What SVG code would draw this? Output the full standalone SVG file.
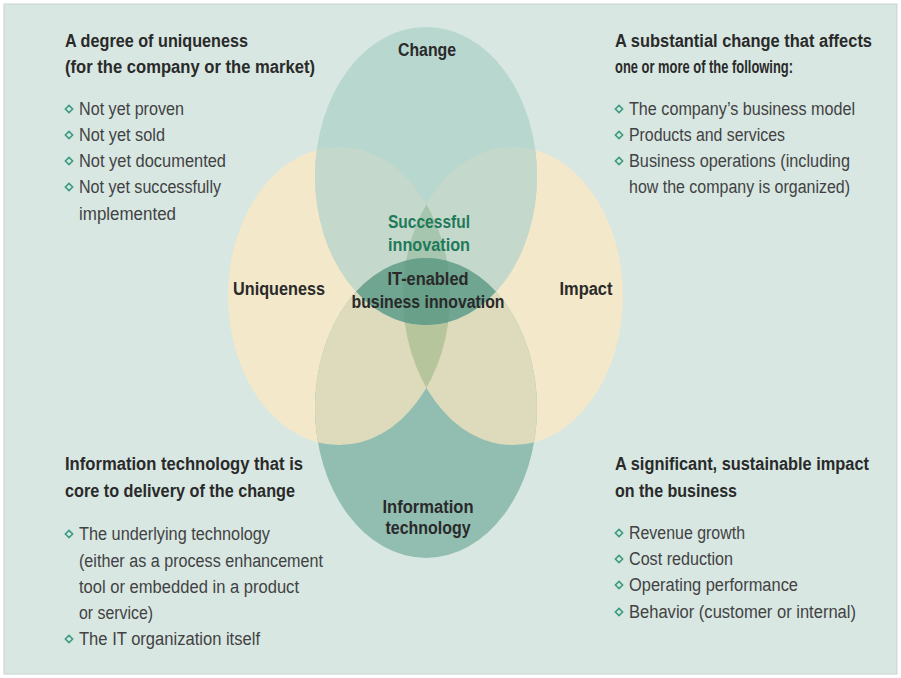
<svg xmlns="http://www.w3.org/2000/svg" xmlns:xlink="http://www.w3.org/1999/xlink" width="901" height="678" viewBox="0 0 901 678">
<style>
text{font-family:"Liberation Sans Narrow","Liberation Sans",Arial,sans-serif;}
.h{font-size:18px;font-weight:bold;fill:#2a2a2a;}
.b{font-size:18px;fill:#424242;}
.c{font-size:18px;font-weight:bold;fill:#2a2a2a;text-anchor:middle;}
.g{font-size:18px;font-weight:bold;fill:#1f7a5a;text-anchor:middle;}
.bul{fill:none;stroke:#3b9a80;stroke-width:1.6;}
</style>
<defs>
<ellipse id="eT" cx="426" cy="176" rx="111" ry="149"/>
<ellipse id="eB" cx="426" cy="408" rx="111" ry="150"/>
<ellipse id="eL" cx="339" cy="296" rx="111" ry="149"/>
<ellipse id="eR" cx="513" cy="296" rx="110" ry="149"/>
<clipPath id="cT"><use xlink:href="#eT"/></clipPath>
<clipPath id="cB"><use xlink:href="#eB"/></clipPath>
<clipPath id="cL"><use xlink:href="#eL"/></clipPath>
<clipPath id="cR"><use xlink:href="#eR"/></clipPath>
<path id="d" class="bul" d="M0,-3.6 L3.6,0 L0,3.6 L-3.6,0 Z"/>
</defs>
<rect x="0" y="0" width="901" height="678" fill="#ffffff"/>
<rect x="4" y="4" width="893" height="670" fill="#d8e7e2" stroke="#c9d3cf" stroke-width="1"/>

<g id="venn">
  <g id="node-uniqueness"><use xlink:href="#eL" fill="#f3e8c9"/></g>
  <g id="node-impact"><use xlink:href="#eR" fill="#f3e8c9"/></g>
  <g id="node-it">
    <use xlink:href="#eB" fill="#92beb2"/>
    <g clip-path="url(#cB)">
      <use xlink:href="#eL" fill="#dedbbd"/>
      <use xlink:href="#eR" fill="#dedbbd"/>
      <g clip-path="url(#cL)"><use xlink:href="#eR" fill="#b6c59c"/></g>
    </g>
  </g>
  <g id="node-change">
    <use xlink:href="#eT" fill="#b8d7cf"/>
    <g clip-path="url(#cT)">
      <use xlink:href="#eL" fill="#c5d8cc"/>
      <use xlink:href="#eR" fill="#c5d8cc"/>
      <g clip-path="url(#cL)"><use xlink:href="#eR" fill="#a7c6b0"/></g>
      <use xlink:href="#eB" fill="#6fa591"/>
      <g clip-path="url(#cB)"><g clip-path="url(#cL)"><use xlink:href="#eR" fill="#69a089"/></g></g>
    </g>
  </g>
</g>

<g id="labels">
  <text class="c" x="427" y="56" textLength="58" lengthAdjust="spacingAndGlyphs">Change</text>
  <text class="g" x="429" y="228" textLength="82" lengthAdjust="spacingAndGlyphs">Successful</text>
  <text class="g" x="429" y="251" textLength="82" lengthAdjust="spacingAndGlyphs">innovation</text>
  <text class="c" x="428" y="285" textLength="81" lengthAdjust="spacingAndGlyphs">IT-enabled</text>
  <text class="c" x="428" y="308" textLength="153" lengthAdjust="spacingAndGlyphs">business innovation</text>
  <text class="c" x="279" y="295" textLength="92" lengthAdjust="spacingAndGlyphs">Uniqueness</text>
  <text class="c" x="586" y="295" textLength="53" lengthAdjust="spacingAndGlyphs">Impact</text>
  <text class="c" x="428" y="513" textLength="91" lengthAdjust="spacingAndGlyphs">Information</text>
  <text class="c" x="428" y="534" textLength="85" lengthAdjust="spacingAndGlyphs">technology</text>
</g>

<g id="text-uniqueness">
  <text class="h" x="65" y="47" textLength="183" lengthAdjust="spacingAndGlyphs">A degree of uniqueness</text>
  <text class="h" x="65" y="73" textLength="250" lengthAdjust="spacingAndGlyphs">(for the company or the market)</text>
  <use xlink:href="#d" x="69" y="109"/>
  <text class="b" x="79" y="115" textLength="105" lengthAdjust="spacingAndGlyphs">Not yet proven</text>
  <use xlink:href="#d" x="69" y="135"/>
  <text class="b" x="79" y="141" textLength="86" lengthAdjust="spacingAndGlyphs">Not yet sold</text>
  <use xlink:href="#d" x="69" y="161"/>
  <text class="b" x="79" y="167" textLength="147" lengthAdjust="spacingAndGlyphs">Not yet documented</text>
  <use xlink:href="#d" x="69" y="187"/>
  <text class="b" x="79" y="193" textLength="142" lengthAdjust="spacingAndGlyphs">Not yet successfully</text>
  <text class="b" x="79" y="220" textLength="97" lengthAdjust="spacingAndGlyphs">implemented</text>
</g>

<g id="text-change">
  <text class="h" x="615" y="47" font-size="17" textLength="257" lengthAdjust="spacingAndGlyphs">A substantial change that affects</text>
  <text class="h" x="615" y="73" textLength="178" lengthAdjust="spacingAndGlyphs">one or more of the following:</text>
  <use xlink:href="#d" x="619" y="109"/>
  <text class="b" x="629" y="115" textLength="226" lengthAdjust="spacingAndGlyphs">The company’s business model</text>
  <use xlink:href="#d" x="619" y="135"/>
  <text class="b" x="629" y="141" textLength="156" lengthAdjust="spacingAndGlyphs">Products and services</text>
  <use xlink:href="#d" x="619" y="161"/>
  <text class="b" x="629" y="167" textLength="221" lengthAdjust="spacingAndGlyphs">Business operations (including</text>
  <text class="b" x="629" y="193" textLength="221" lengthAdjust="spacingAndGlyphs">how the company is organized)</text>
</g>

<g id="text-it">
  <text class="h" x="65" y="470" textLength="238" lengthAdjust="spacingAndGlyphs">Information technology that is</text>
  <text class="h" x="65" y="497" textLength="230" lengthAdjust="spacingAndGlyphs">core to delivery of the change</text>
  <use xlink:href="#d" x="69" y="534"/>
  <text class="b" x="79" y="540" textLength="191" lengthAdjust="spacingAndGlyphs">The underlying technology</text>
  <text class="b" x="79" y="567" textLength="244" lengthAdjust="spacingAndGlyphs">(either as a process enhancement</text>
  <text class="b" x="79" y="593" textLength="220" lengthAdjust="spacingAndGlyphs">tool or embedded in a product</text>
  <text class="b" x="79" y="619" textLength="74" lengthAdjust="spacingAndGlyphs">or service)</text>
  <use xlink:href="#d" x="69" y="639"/>
  <text class="b" x="79" y="645" textLength="181" lengthAdjust="spacingAndGlyphs">The IT organization itself</text>
</g>

<g id="text-impact">
  <text class="h" x="615" y="470" textLength="254" lengthAdjust="spacingAndGlyphs">A significant, sustainable impact</text>
  <text class="h" x="615" y="497" textLength="122" lengthAdjust="spacingAndGlyphs">on the business</text>
  <use xlink:href="#d" x="619" y="533"/>
  <text class="b" x="629" y="539" textLength="116" lengthAdjust="spacingAndGlyphs">Revenue growth</text>
  <use xlink:href="#d" x="619" y="559"/>
  <text class="b" x="629" y="565" textLength="104" lengthAdjust="spacingAndGlyphs">Cost reduction</text>
  <use xlink:href="#d" x="619" y="585"/>
  <text class="b" x="629" y="591" textLength="169" lengthAdjust="spacingAndGlyphs">Operating performance</text>
  <use xlink:href="#d" x="619" y="612"/>
  <text class="b" x="629" y="618" textLength="227" lengthAdjust="spacingAndGlyphs">Behavior (customer or internal)</text>
</g>
</svg>
